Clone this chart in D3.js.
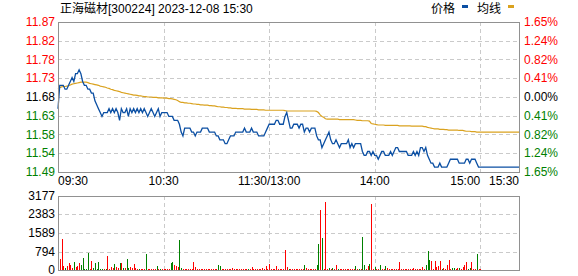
<!DOCTYPE html>
<html><head><meta charset="utf-8">
<script src="https://cdn.jsdelivr.net/npm/d3@7"></script>
<style>
html,body{margin:0;padding:0;background:#fff;}
svg{display:block;font-family:"Liberation Sans","Noto Sans CJK SC",sans-serif;font-size:12px;}
</style></head><body>
<svg id="chart" width="578" height="276"></svg>
<script>
const title = "正海磁材[300224] 2023-12-08 15:30";
const legendNames = ["价格", "均线"];
const preClose = 11.68;
const maxPct = 1.65;
const pctTicks = [1.65, 1.2375, 0.825, 0.4125, 0, -0.4125, -0.825, -1.2375, -1.65];
const priceTickLabels = ["11.87","11.82","11.78","11.73","11.68","11.63","11.58","11.54","11.49"];
const pctTickLabels = ["1.65%","1.24%","0.82%","0.41%","0.00%","0.41%","0.82%","1.24%","1.65%"];
const volTickValues = [3177, 2383, 1589, 794, 0];
const volTickLabels = ["3177","2383","1589","794","0"];
const timeTickMinutes = [0, 60, 120, 180, 240, 262];
const timeTickLabels = ["09:30","10:30","11:30/13:00","14:00","15:00","15:30"];
const lastMinute = 262;

const prices = [
11.65,11.71,11.71,11.71,11.70,11.70,11.71,11.72,11.73,11.72,
11.74,11.74,11.75,11.74,11.72,11.71,11.71,11.70,11.70,11.69,
11.69,11.67,11.66,11.65,11.64,11.63,11.64,11.64,11.64,11.65,
11.64,11.65,11.64,11.65,11.64,11.62,11.65,11.64,11.64,11.65,
11.63,11.65,11.64,11.65,11.64,11.65,11.64,11.65,11.64,11.65,
11.64,11.63,11.64,11.65,11.64,11.63,11.64,11.65,11.63,11.64,
11.64,11.64,11.64,11.63,11.63,11.63,11.62,11.62,11.62,11.61,
11.59,11.58,11.60,11.60,11.60,11.60,11.59,11.59,11.58,11.59,
11.59,11.59,11.60,11.60,11.60,11.60,11.59,11.59,11.59,11.59,
11.58,11.58,11.57,11.57,11.57,11.56,11.56,11.57,11.58,11.58,
11.58,11.59,11.59,11.59,11.59,11.59,11.60,11.59,11.59,11.59,
11.60,11.59,11.59,11.59,11.58,11.58,11.58,11.58,11.59,11.60,
11.61,11.61,11.61,11.61,11.62,11.62,11.61,11.61,11.61,11.63,
11.64,11.62,11.60,11.60,11.61,11.61,11.61,11.60,11.61,11.61,
11.59,11.60,11.60,11.59,11.60,11.60,11.60,11.58,11.57,11.57,
11.55,11.56,11.57,11.58,11.59,11.57,11.56,11.56,11.57,11.56,
11.55,11.56,11.56,11.56,11.56,11.57,11.55,11.56,11.55,11.56,
11.56,11.56,11.56,11.54,11.53,11.53,11.54,11.54,11.53,11.54,
11.53,11.53,11.52,11.53,11.54,11.54,11.53,11.53,11.53,11.54,
11.53,11.54,11.55,11.55,11.54,11.54,11.54,11.54,11.54,11.53,
11.53,11.53,11.54,11.53,11.54,11.53,11.55,11.55,11.54,11.55,
11.53,11.52,11.51,11.51,11.50,11.50,11.50,11.51,11.50,11.50,
11.50,11.50,11.51,11.52,11.52,11.52,11.52,11.52,11.51,11.51,
11.51,11.51,11.52,11.52,11.51,11.52,11.52,11.52,11.51,11.50,
11.50
];

const avgPrices = [
11.700,11.704,11.706,11.707,11.707,11.708,11.709,11.711,11.713,11.714,
11.715,11.716,11.717,11.718,11.718,11.718,11.718,11.717,11.715,11.714,
11.713,11.712,11.711,11.710,11.708,11.707,11.706,11.705,11.703,11.702,
11.700,11.699,11.697,11.696,11.695,11.694,11.692,11.691,11.690,11.689,
11.688,11.687,11.686,11.685,11.685,11.684,11.683,11.683,11.682,11.681,
11.681,11.680,11.680,11.680,11.679,11.679,11.679,11.678,11.678,11.678,
11.677,11.677,11.677,11.676,11.676,11.675,11.674,11.673,11.671,11.668,
11.666,11.666,11.665,11.665,11.664,11.664,11.663,11.662,11.662,11.661,
11.661,11.660,11.660,11.659,11.659,11.659,11.658,11.658,11.657,11.657,
11.656,11.655,11.655,11.654,11.654,11.653,11.653,11.652,11.652,11.651,
11.651,11.651,11.650,11.650,11.650,11.650,11.649,11.649,11.649,11.649,
11.648,11.648,11.648,11.648,11.647,11.647,11.647,11.647,11.646,11.646,
11.646,11.646,11.646,11.646,11.646,11.646,11.646,11.646,11.646,11.645,
11.644,11.644,11.644,11.644,11.644,11.644,11.644,11.644,11.644,11.644,
11.644,11.644,11.644,11.644,11.644,11.644,11.644,11.643,11.640,11.634,
11.630,11.628,11.624,11.623,11.623,11.623,11.623,11.623,11.623,11.623,
11.622,11.622,11.622,11.622,11.622,11.622,11.622,11.622,11.622,11.621,
11.620,11.620,11.620,11.619,11.619,11.619,11.619,11.618,11.612,11.611,
11.610,11.609,11.608,11.608,11.608,11.608,11.607,11.607,11.607,11.607,
11.607,11.607,11.607,11.607,11.606,11.606,11.606,11.606,11.606,11.606,
11.606,11.605,11.605,11.605,11.605,11.605,11.605,11.605,11.604,11.604,
11.602,11.601,11.600,11.599,11.598,11.598,11.598,11.597,11.597,11.597,
11.596,11.596,11.595,11.595,11.595,11.595,11.595,11.595,11.594,11.594,
11.594,11.593,11.592,11.592,11.592,11.591,11.591,11.591,11.590,11.590,
11.590
];

const volumes = [
60,472,1330,170,100,186,300,214,100,330,
130,186,286,214,530,43,43,730,43,386,
100,286,43,330,43,43,43,43,600,43,
143,70,257,143,100,300,300,70,70,472,
70,143,70,257,100,43,43,43,43,43,
686,43,43,43,43,43,170,43,43,43,
43,43,43,43,313,343,214,170,130,1290,
70,43,43,43,43,43,43,357,143,43,
43,43,43,43,43,43,43,43,43,43,
43,214,170,43,43,43,43,43,43,100,
43,43,43,43,43,43,43,43,43,43,
143,43,60,43,43,43,70,43,186,43,
257,60,43,43,170,43,43,43,43,858,
143,43,43,43,43,43,43,43,43,43,
214,100,43,43,43,43,43,214,1115,2574,
1373,43,2917,43,100,43,100,43,214,43,
43,43,43,43,43,43,43,43,43,170,
43,43,43,1416,214,43,186,257,2831,43,
143,43,43,214,43,43,170,100,43,43,
43,43,43,43,330,43,43,43,43,43,
43,43,100,43,43,43,43,143,43,214,
815,429,386,43,386,143,186,386,43,70,
43,214,429,43,70,70,43,70,70,43,
143,214,357,43,70,357,43,43,686,43,
43
];

const volUp = [
1,1,1,1,0,1,1,1,1,0,
1,1,1,0,0,0,0,0,1,1,
0,0,0,0,0,0,1,0,1,1,
1,1,0,1,1,0,1,0,1,0,
0,1,1,1,1,1,0,1,1,1,
0,1,1,1,1,1,0,1,0,1,
1,1,1,1,0,0,1,1,1,0,
0,1,1,1,1,1,1,1,1,1,
1,1,1,1,1,1,1,1,1,1,
1,0,0,1,1,1,1,1,1,1,
1,1,1,1,1,1,1,1,0,1,
1,1,1,1,1,1,1,1,1,1,
1,1,1,1,1,1,1,1,1,1,
1,0,1,1,1,1,1,1,1,1,
0,1,1,1,1,1,1,0,0,1,
0,1,1,1,0,1,0,1,1,0,
1,1,1,1,1,1,1,1,1,0,
1,0,1,0,0,1,1,0,1,1,
0,1,1,0,1,1,0,1,1,1,
1,1,1,1,1,1,1,1,1,1,
1,1,1,1,1,1,1,1,1,0,
0,0,1,1,1,1,1,1,0,1,
1,1,1,1,0,0,1,1,0,1,
1,1,1,0,0,1,1,1,0,1,
1
];

const postClose = { minute: 262, price: 11.50, avg: 11.59 };

const colors = { price: "#0b4fa3", avg: "#daa21f", up: "#ff0000", down: "#008000",
  grid: "#cacaca", frame: "#919191", text: "#000000" };

const svg = d3.select("#chart");
const L = 58, R = 519, PT = 22, PB = 172, VT = 196, VB = 270;

const x = d3.scaleLinear().domain([0, lastMinute]).range([L, R]);
const yP = d3.scaleLinear()
  .domain([preClose * (1 - maxPct / 100), preClose * (1 + maxPct / 100)])
  .range([PB, PT]);
const yV = d3.scaleLinear().domain([0, volTickValues[0]]).range([VB, VT]);

// grids
const gridG = svg.append("g").attr("stroke", colors.grid).attr("stroke-dasharray", "4,3").attr("shape-rendering", "crispEdges");
pctTicks.slice(1, -1).forEach(p => {
  const yy = Math.round(yP(preClose * (1 + p / 100))) + 0.5;
  gridG.append("line").attr("x1", L).attr("x2", R).attr("y1", yy).attr("y2", yy);
});
volTickValues.slice(1, -1).forEach(v => {
  const yy = Math.round(yV(v)) + 0.5;
  gridG.append("line").attr("x1", L).attr("x2", R).attr("y1", yy).attr("y2", yy);
});
timeTickMinutes.slice(1, -1).forEach(m => {
  const xx = Math.round(x(m)) + 0.5;
  gridG.append("line").attr("x1", xx).attr("x2", xx).attr("y1", PT).attr("y2", PB);
  gridG.append("line").attr("x1", xx).attr("x2", xx).attr("y1", VT).attr("y2", VB);
});

// volume bars
svg.append("g").attr("shape-rendering", "crispEdges")
  .selectAll("rect").data(volumes).join("rect")
  .attr("x", (d, i) => Math.round(x(i)))
  .attr("width", 1)
  .attr("y", d => yV(d))
  .attr("height", d => VB - yV(d))
  .attr("fill", (d, i) => volUp[i] ? colors.up : colors.down);

// lines
const priceSeries = prices.map((p, i) => [i, p]).concat([[postClose.minute, postClose.price]]);
const avgSeries = avgPrices.map((p, i) => [i, p]).concat([[postClose.minute, postClose.avg]]);
const line = d3.line().x(d => x(d[0])).y(d => yP(d[1]));
svg.append("path").attr("d", line(avgSeries)).attr("fill", "none").attr("stroke", colors.avg).attr("stroke-width", 1.2);
svg.append("path").attr("d", line(priceSeries)).attr("fill", "none").attr("stroke", colors.price).attr("stroke-width", 1.3);

// frames
[[PT, PB], [VT, VB]].forEach(([t, b]) => {
  svg.append("rect").attr("x", L + 0.5).attr("y", t + 0.5).attr("width", R - L).attr("height", b - t)
    .attr("fill", "none").attr("stroke", colors.frame).attr("stroke-width", 1.2).attr("shape-rendering", "crispEdges");
});

// axis labels
const labelColor = i => i < 4 ? colors.up : (i === 4 ? colors.text : colors.down);
pctTicks.forEach((p, i) => {
  const yy = yP(preClose * (1 + p / 100));
  svg.append("text").attr("x", L - 3).attr("y", yy + 4).attr("text-anchor", "end")
    .attr("fill", labelColor(i)).text(priceTickLabels[i]);
  svg.append("text").attr("x", R + 5).attr("y", yy + 4).attr("text-anchor", "start")
    .attr("fill", labelColor(i)).text(pctTickLabels[i]);
});
volTickValues.forEach((v, i) => {
  svg.append("text").attr("x", L - 3).attr("y", yV(v) + 4).attr("text-anchor", "end")
    .attr("fill", colors.text).text(volTickLabels[i]);
});
timeTickMinutes.forEach((m, i) => {
  const anchor = i === 0 ? "start" : (i >= timeTickMinutes.length - 2 ? "end" : "middle");
  svg.append("text").attr("x", x(m)).attr("y", PB + 13).attr("text-anchor", anchor)
    .attr("fill", colors.text).text(timeTickLabels[i]);
});

// title & legend
svg.append("text").attr("x", 60).attr("y", 13).attr("fill", colors.text).text(title);
const lg = svg.append("g");
lg.append("text").attr("x", 431).attr("y", 13).attr("fill", colors.text).text(legendNames[0]);
lg.append("rect").attr("x", 462).attr("y", 5).attr("width", 6).attr("height", 3).attr("fill", colors.price);
lg.append("text").attr("x", 477).attr("y", 13).attr("fill", colors.text).text(legendNames[1]);
lg.append("rect").attr("x", 508).attr("y", 5).attr("width", 6).attr("height", 3).attr("fill", colors.avg);
</script>
</body></html>
